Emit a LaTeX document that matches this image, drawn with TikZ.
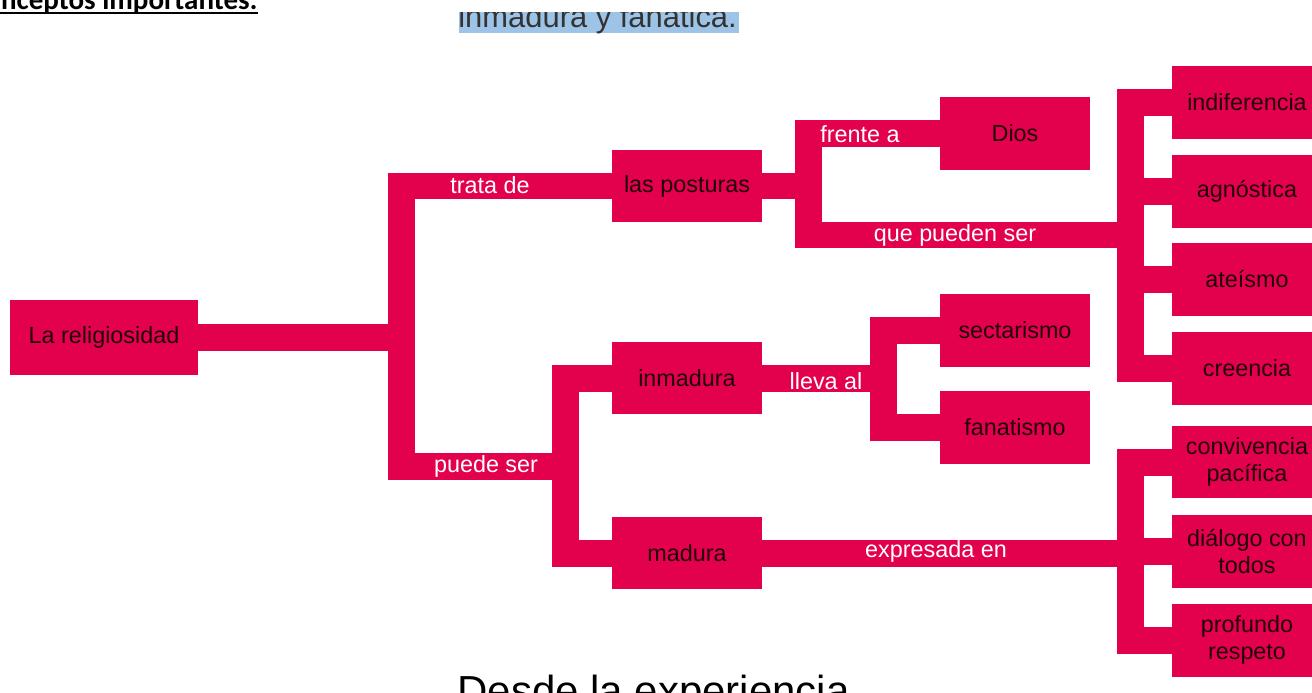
\documentclass[tikz,border=0pt]{standalone}
\usepackage{fontspec}
\setmainfont{Liberation Sans}
\newfontfamily\carlito{Carlito}
\definecolor{mapred}{RGB}{227,0,77}
\definecolor{marktint}{RGB}{157,195,230}
\begin{document}
\begin{tikzpicture}[x=0.02cm,y=-0.02cm,
    box/.style={fill=mapred,text=black!85!mapred,minimum width=3cm,minimum height=1.46cm,
      inner sep=0pt,align=center,font=\fontsize{13.3}{15.4}\selectfont},
    link/.style={mapred,line width=0.54cm},
    lbl/.style={text=white,inner sep=0pt,font=\fontsize{13.3}{15.4}\selectfont}]
  \useasboundingbox (0,0) rectangle (1312,693);
  \clip (0,0) rectangle (1312,693);
  % cut-off text of the page around the map
  \begin{scope}
    \clip (440,12) rectangle (760,40);
    \fill[marktint] (459,12) rectangle (739,33);
    \node[anchor=base west,inner sep=0pt,text=black!80,font=\fontsize{17.6}{20}\selectfont] (hint) at (458,28) {inmadura y fanática.};
  \end{scope}
  \node[anchor=base east,inner sep=0pt,font=\carlito\bfseries\fontsize{16.5}{19}\selectfont] (ttl) at (258,10) {Conceptos importantes:};
  \draw[line width=1.2pt] ([yshift=-1.8pt]ttl.base west) -- ([yshift=-1.8pt]ttl.base east);
  \node[anchor=base west,inner sep=0pt,font=\fontsize{23.9}{28}\selectfont] (desde) at (457,705) {Desde la experiencia};
  % concepts
  \node[box,minimum width=3.76cm,minimum height=1.5cm] (relig) at (104,337.5) {La religiosidad};
  \node[box] (post) at (687,186) {las posturas};
  \node[box] (inm) at (687,378) {inmadura};
  \node[box] (mad) at (687,553) {madura};
  \node[box] (dios) at (1015,133.5) {Dios};
  \node[box] (sect) at (1015,330.5) {sectarismo};
  \node[box] (fan) at (1015,427.5) {fanatismo};
  \node[box] (indif) at (1247,102.5) {indiferencia};
  \node[box] (agn) at (1247,191.5) {agnóstica};
  \node[box] (ate) at (1247,279.5) {ateísmo};
  \node[box] (cre) at (1247,368.5) {creencia};
  \node[box] (conv) at (1247,462) {convivencia\\pacífica};
  \node[box] (dial) at (1247,551.5) {diálogo con\\todos};
  \node[box] (prof) at (1247,640) {profundo\\respeto};
  % junctions
  \coordinate (b1) at (401,337.5);
  \coordinate (b2) at (565,466);
  \coordinate (b3) at (808,186);
  \coordinate (b4) at (1130,235);
  \coordinate (b5) at (883,381);
  \coordinate (b6) at (1130,551);
  % connectors
  \draw[link] (relig.east) -- (b1);
  \draw[link] (post.west) -| (b1) |- (b2);
  \draw[link] (inm.west) -| (b2) |- (mad.west);
  \draw[link] (post.east) -- (b3);
  \draw[link] (dios.west) -| (b3) |- (b4);
  \draw[link] (indif.west) -| (b4) |- (cre.west);
  \draw[link] (agn.west) -- (agn.west -| b4);
  \draw[link] (ate.west) -- (ate.west -| b4);
  \draw[link] (inm.east) -- (inm.east -| b5);
  \draw[link] (sect.west) -| (b5) |- (fan.west);
  \draw[link] (mad.east) -- (mad.east -| b6);
  \draw[link] (conv.west) -| (b6) |- (prof.west);
  \draw[link] (dial.west) -- (dial.west -| b6);
  % linking words
  \node[lbl] (trata) at (490,185) {trata de};
  \node[lbl] (puede) at (486,466) {puede ser};
  \node[lbl] (frente) at (860,134) {frente a};
  \node[lbl] (pueden) at (955,235) {que pueden ser};
  \node[lbl] (lleva) at (826,381) {lleva al};
  \node[lbl] (expr) at (936,551) {expresada en};
\end{tikzpicture}
\end{document}
